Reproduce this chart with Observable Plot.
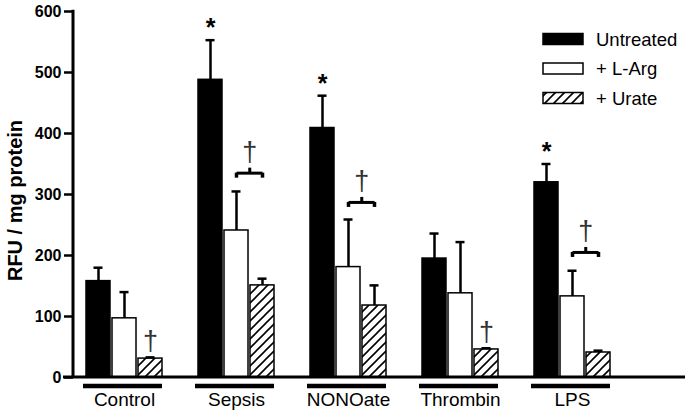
<!DOCTYPE html>
<html><head><meta charset="utf-8">
<script src="https://cdn.jsdelivr.net/npm/d3@7"></script>
<script src="https://cdn.jsdelivr.net/npm/@observablehq/plot@0.6"></script>
<style>
body{margin:0;background:#fff;}
#wrap{position:relative;width:685px;height:413px;font-family:"Liberation Sans",Arial,sans-serif;}
#wrap svg.legend{position:absolute;left:0;top:0;pointer-events:none;}
</style></head><body><div id="wrap"></div>
<script>
// ---- data ----
const groups = ["Control", "Sepsis", "NONOate", "Thrombin", "LPS"];
const treatments = ["Untreated", "+ L-Arg", "+ Urate"];
const untreated    = [158, 488, 409, 195, 320];
const untreatedErr = [22, 65, 53, 41, 30];
const lArg         = [97, 241, 181, 138, 133];
const lArgErr      = [43, 64, 78, 84, 42];
const urate        = [31, 151, 118, 46, 41];
const urateErr     = [2, 11, 33, 2, 3];
const yTicks = [0, 100, 200, 300, 400, 500, 600];
const starGroups = ["Sepsis", "NONOate", "LPS"];
const bracketGroups = ["Sepsis", "NONOate", "LPS"];
const bracketLevels = [335, 287, 205];
const daggerBarGroups = ["Control", "Thrombin"];
const yLabel = "RFU / mg protein";

// ---- tables ----
const series = [untreated, lArg, urate];
const errs = [untreatedErr, lArgErr, urateErr];
const rows = [];
groups.forEach((g, i) => treatments.forEach((t, j) => {
  rows.push({group: g, treatment: t, value: series[j][i], top: series[j][i] + errs[j][i]});
}));
const stars = rows.filter(r => r.treatment === "Untreated" && starGroups.includes(r.group));
const brackets = bracketGroups.map((g, i) => ({group: g, y: bracketLevels[i]}));
const bracketEnds = brackets.flatMap(b => [{...b, treatment: "+ L-Arg"}, {...b, treatment: "+ Urate"}]);
const barDaggers = rows.filter(r => r.treatment === "+ Urate" && daggerBarGroups.includes(r.group));

const halfStep = 13.25;
const font = "'Liberation Sans', Arial, sans-serif";

const chart = Plot.plot({
  width: 685, height: 413,
  marginLeft: 73, marginRight: 0, marginTop: 11, marginBottom: 36,
  style: {fontFamily: font, color: "black", background: "white", overflow: "visible"},
  fx: {domain: groups, axis: null, paddingInner: 0.209, paddingOuter: 0.3244, align: 0},
  x: {domain: treatments, axis: null, paddingInner: 0.094, paddingOuter: 0.226, align: 1},
  y: {domain: [0, 600]},
  color: {domain: treatments, range: ["black", "white", "url(#hatch)"]},
  marks: [
    Plot.axisY({ticks: yTicks, tickSize: 9, tickPadding: 3, strokeWidth: 2.5, fontSize: 16, fontWeight: "bold", label: null}),
    Plot.text([yLabel], {fx: () => "Control", frameAnchor: "left", textAnchor: "middle", rotate: -90, dx: -58, dy: 6, fontSize: 20, fontWeight: "bold", text: d => d}),
    Plot.barY(rows, {fx: "group", x: "treatment", y: "value", fill: "treatment", stroke: "black", strokeWidth: 1.5}),
    Plot.ruleX(rows, {fx: "group", x: "treatment", y1: "value", y2: "top", strokeWidth: 2.5}),
    Plot.tickY(rows, {fx: "group", x: "treatment", y: "top", strokeWidth: 2.5, insetLeft: 7.5, insetRight: 7.5}),
    Plot.text(stars, {fx: "group", x: "treatment", y: "top", text: () => "*", fontSize: 25, fontWeight: "bold", lineAnchor: "bottom", dy: -4}),
    Plot.link(brackets, {fx: "group", x1: () => "+ L-Arg", x2: () => "+ Urate", y1: "y", y2: "y", strokeWidth: 3}),
    Plot.ruleX(bracketEnds, {fx: "group", x: "treatment", y1: "y", y2: "y", insetBottom: -5, strokeWidth: 3.5}),
    Plot.ruleX(brackets, {fx: "group", x: () => "+ L-Arg", dx: halfStep, y1: "y", y2: "y", insetTop: -5, strokeWidth: 3}),
    Plot.text(brackets, {fx: "group", x: () => "+ L-Arg", dx: halfStep, y: "y", text: () => "\u2020", fontSize: 27, fill: "#333", lineAnchor: "bottom", dy: -12}),
    Plot.text(barDaggers, {fx: "group", x: "treatment", y: "top", text: () => "\u2020", fontSize: 27, fill: "#333", lineAnchor: "bottom", dy: -7}),
    Plot.ruleY(groups, {fx: d => d, y: () => 0, dy: 8.5, strokeWidth: 4.5, insetLeft: 10}),
    Plot.text(groups, {fx: d => d, x: () => "+ L-Arg", y: () => 0, text: d => d, dy: 22, fontSize: 19, lineAnchor: "middle"})
  ]
});

const wrap = document.getElementById("wrap");
wrap.appendChild(chart);

// hatch pattern + full-width axis lines
const svg = d3.select(chart);
const defs = svg.insert("defs", ":first-child");
const pat = defs.append("pattern").attr("id", "hatch").attr("patternUnits", "userSpaceOnUse").attr("width", 9).attr("height", 9);
pat.append("rect").attr("width", 9).attr("height", 9).attr("fill", "white");
pat.append("path").attr("d", "M-2,2 L2,-2 M0,9 L9,0 M7,11 L11,7").attr("stroke", "black").attr("stroke-width", 1.6);

const ys = chart.scale("y");
const y0 = ys.apply(0), yTop = ys.apply(600);
const axisX = 73;
svg.append("line").attr("x1", axisX - 10).attr("x2", 685).attr("y1", y0).attr("y2", y0).attr("stroke", "black").attr("stroke-width", 3);
svg.append("line").attr("x1", axisX).attr("x2", axisX).attr("y1", yTop - 1.25).attr("y2", y0).attr("stroke", "black").attr("stroke-width", 3);

// legend overlay
const leg = d3.select(wrap).append("svg").attr("class", "legend").attr("width", 685).attr("height", 413);
const legY = [39, 68.5, 98];
const legFill = ["black", "white", "url(#hatch)"];
treatments.forEach((t, i) => {
  leg.append("rect").attr("x", 543).attr("y", legY[i] - 5.5).attr("width", 40).attr("height", 11)
    .attr("fill", legFill[i]).attr("stroke", "black").attr("stroke-width", 1.5);
  leg.append("text").attr("x", 596).attr("y", legY[i] + 6.5).attr("font-size", 18.5)
    .attr("font-family", font).attr("fill", "black").text(t);
});
</script>
</body></html>
